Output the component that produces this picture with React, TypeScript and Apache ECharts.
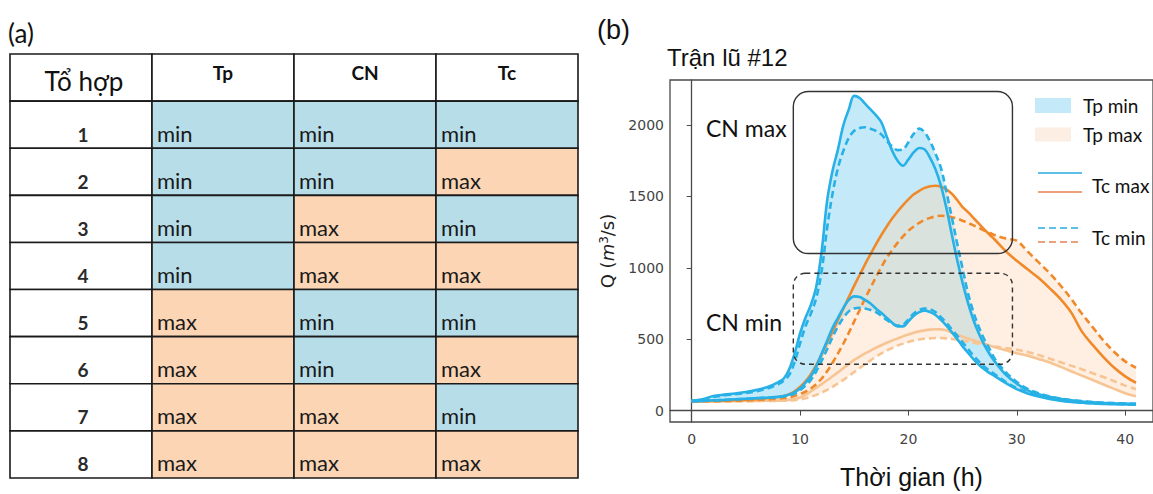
import React, { useEffect, useRef } from "react";
import * as echarts from "echarts";

// ---------------- (a) table data ----------------
const tableHeader = ["Tổ hợp", "Tp", "CN", "Tc"];
const comboIds = ["1", "2", "3", "4", "5", "6", "7", "8"];
const tpLevels = ["min", "min", "min", "min", "max", "max", "max", "max"];
const cnLevels = ["min", "min", "max", "max", "min", "min", "max", "max"];
const tcLevels = ["min", "max", "min", "max", "min", "max", "min", "max"];

// ---------------- (b) hydrograph data ----------------
const hours = [
  0, 1, 2, 3, 4, 5, 6, 7, 8,
  8.5, 9, 9.5, 10, 10.5, 11, 11.5, 12, 12.5, 13, 13.5, 14, 14.5, 15, 15.5, 16, 16.5, 17, 17.5, 18,
  18.5, 19, 19.5, 20, 20.5, 21, 21.5, 22, 22.5, 23, 23.5, 24, 24.5, 25, 25.5, 26, 26.5, 27, 27.5, 28,
  29, 30, 31, 32, 33, 34, 35, 36, 37, 38, 39, 40, 41,
];
// Tp min, CN max, Tc max (blue solid, upper)
const qTpMinCnMaxTcMax = [
  68, 80, 102, 112, 120, 130, 145, 165, 200,
  225, 290, 400, 540, 650, 740, 870, 1120, 1470, 1680, 1830, 2000, 2110, 2205, 2190, 2150, 2110, 2070, 2020, 1920,
  1820, 1750, 1715, 1760, 1810, 1840, 1830, 1770, 1690, 1575, 1420, 1235, 1055, 895, 755, 635, 540, 460, 395, 340,
  250, 188, 142, 115, 96, 82, 72, 64, 58, 54, 51, 49, 47,
];
// Tp min, CN max, Tc min (blue dashed, upper)
const qTpMinCnMaxTcMin = [
  68, 76, 96, 106, 114, 123, 136, 155, 185,
  210, 250, 340, 470, 590, 680, 790, 980, 1280, 1520, 1700, 1820, 1910, 1960, 1980, 1985, 1975, 1960, 1935, 1890,
  1850, 1825, 1830, 1880, 1940, 1975, 1950, 1885, 1800, 1700, 1535, 1355, 1170, 995, 822, 690, 585, 500, 430, 360,
  268, 200, 152, 122, 100, 85, 74, 66, 60, 55, 52, 50, 48,
];
// Tp min, CN min, Tc max (blue solid, lower)
const qTpMinCnMinTcMax = [
  66, 68, 72, 75, 79, 83, 87, 91, 96,
  102, 112, 130, 155, 195, 240, 310, 400, 490, 580, 650, 720, 775, 800, 795, 775, 750, 715, 685, 650,
  615, 590, 590, 625, 665, 690, 700, 690, 670, 635, 595, 550, 502, 450, 405, 360, 320, 290, 262, 240,
  192, 150, 120, 98, 82, 70, 61, 55, 50, 47, 45, 43, 42,
];
// Tp min, CN min, Tc min (blue dashed, lower)
const qTpMinCnMinTcMin = [
  66, 68, 71, 74, 78, 82, 86, 90, 94,
  99, 106, 120, 142, 175, 215, 275, 350, 430, 515, 590, 650, 695, 715, 720, 715, 705, 690, 665, 635,
  610, 595, 600, 640, 680, 705, 715, 710, 690, 655, 615, 570, 525, 478, 432, 385, 345, 308, 278, 253,
  200, 157, 125, 102, 85, 73, 64, 57, 52, 48, 46, 44, 43,
];
// Tp max, CN max, Tc max (orange solid, upper)
const qTpMaxCnMaxTcMax = [
  66, 66, 67, 69, 72, 76, 80, 86, 95,
  102, 115, 135, 165, 205, 255, 320, 395, 475, 555, 635, 715, 795, 875, 950, 1025, 1095, 1165, 1230, 1290,
  1345, 1395, 1440, 1480, 1515, 1540, 1560, 1572, 1575, 1568, 1550, 1520, 1475, 1425, 1390, 1350, 1310, 1270, 1232, 1195,
  1115, 1050, 990, 930, 860, 785, 690, 555, 460, 375, 300, 240, 195,
];
// Tp max, CN max, Tc min (orange dashed, upper)
const qTpMaxCnMaxTcMin = [
  66, 66, 66, 67, 69, 71, 74, 78, 84,
  88, 94, 103, 115, 132, 155, 185, 225, 275, 335, 400, 470, 545, 625, 705, 785, 860, 935, 1005, 1070,
  1125, 1175, 1220, 1260, 1290, 1315, 1335, 1350, 1360, 1365, 1362, 1355, 1345, 1330, 1315, 1298, 1280, 1262, 1245, 1228,
  1205, 1190, 1115, 1040, 965, 880, 785, 680, 585, 490, 410, 345, 300,
];
// Tp max, CN min, Tc max (light orange solid, lower)
const qTpMaxCnMinTcMax = [
  65, 65, 65, 66, 66, 67, 68, 69, 70,
  72, 75, 82, 92, 110, 135, 160, 185, 212, 240, 268, 298, 326, 355, 378, 400, 420, 440, 458, 475,
  491, 505, 520, 533, 545, 555, 562, 567, 570, 569, 562, 545, 532, 518, 505, 492, 480, 468, 455, 443,
  422, 402, 385, 362, 338, 308, 276, 245, 214, 183, 152, 122, 100,
];
// Tp max, CN min, Tc min (light orange dashed, lower)
const qTpMaxCnMinTcMin = [
  65, 65, 65, 65, 66, 66, 67, 67, 68,
  69, 70, 73, 78, 86, 97, 110, 126, 145, 166, 190, 215, 242, 270, 298, 325, 352, 377, 400, 420,
  438, 455, 469, 481, 491, 498, 503, 506, 508, 508, 506, 502, 497, 490, 483, 476, 469, 462, 455, 449,
  438, 426, 410, 390, 365, 340, 315, 290, 262, 235, 205, 175, 150,
];
const xTicks = [0, 10, 20, 30, 40];
const yTicks = [0, 500, 1000, 1500, 2000];

// annotation boxes in data units
const cnMaxBox = { t0: 9.38, t1: 29.6, q0: 1100, q1: 2235 };
const cnMinBox = { t0: 9.38, t1: 29.6, q0: 325, q1: 962 };

// ---------------- styles ----------------
const BLUE = "#27b1e6";
const ORANGE = "#f0892a";
const LIGHT_ORANGE = "#f7c494";
const BLUE_FILL = "rgba(100,200,240,0.38)";
const ORANGE_FILL = "rgba(255,214,178,0.38)";
const CELL_BLUE = "#b7dde8";
const CELL_ORANGE = "#fcd5b4";
const CAL = 'Lato, "Open Sans", sans-serif';
const ARIAL = '"Liberation Sans", Arial, sans-serif';
const DEJAVU = '"DejaVu Sans", sans-serif';

const pairs = (ys: number[]) => hours.map((t, i) => [t, ys[i]]);

export default function App() {
  const ref = useRef<HTMLDivElement>(null);

  useEffect(() => {
    const chart = echarts.init(ref.current!, null, { renderer: "svg" });

    // table cells
    type Cell = { col: number; row: number; text: string; kind: string };
    const cells: Cell[] = [];
    tableHeader.forEach((h, c) => cells.push({ col: c, row: 0, text: h, kind: c === 0 ? "head0" : "head" }));
    comboIds.forEach((id, r) => {
      cells.push({ col: 0, row: r + 1, text: id, kind: "id" });
      [tpLevels[r], cnLevels[r], tcLevels[r]].forEach((lv, k) =>
        cells.push({ col: k + 1, row: r + 1, text: lv, kind: lv })
      );
    });

    const blueUpper = hours.map((_, i) => Math.max(qTpMinCnMaxTcMax[i], qTpMinCnMaxTcMin[i]));
    const blueLower = hours.map((_, i) => Math.min(qTpMinCnMinTcMax[i], qTpMinCnMinTcMin[i]));
    const orUpper = hours.map((_, i) => Math.max(qTpMaxCnMaxTcMax[i], qTpMaxCnMaxTcMin[i]));
    const orLower = hours.map((_, i) => Math.min(qTpMaxCnMinTcMax[i], qTpMaxCnMinTcMin[i]));

    const SM = 0.35;
    const band = (lower: number[], upper: number[], color: string, z: number) => ({
      type: "custom", xAxisIndex: 1, yAxisIndex: 1, silent: true, z, clip: true,
      data: [[hours[0], lower[0]]],
      renderItem: (_p: any, api: any) => {
        const top = hours.map((t, i) => api.coord([t, upper[i]]));
        const bot = hours.map((t, i) => api.coord([t, lower[i]])).reverse();
        return { type: "polygon", shape: { points: top.concat(bot) }, style: { fill: color } };
      },
    });

    const lines = [
      { d: qTpMaxCnMinTcMax, c: LIGHT_ORANGE, dash: false },
      { d: qTpMaxCnMinTcMin, c: LIGHT_ORANGE, dash: true },
      { d: qTpMaxCnMaxTcMax, c: ORANGE, dash: false },
      { d: qTpMaxCnMaxTcMin, c: ORANGE, dash: true },
      { d: qTpMinCnMinTcMax, c: BLUE, dash: false },
      { d: qTpMinCnMinTcMin, c: BLUE, dash: true },
      { d: qTpMinCnMaxTcMax, c: BLUE, dash: false },
      { d: qTpMinCnMaxTcMin, c: BLUE, dash: true },
    ].map((l, i) => ({
      type: "line", xAxisIndex: 1, yAxisIndex: 1, data: pairs(l.d), symbol: "none", smooth: SM,
      silent: true, z: 5 + i,
      lineStyle: { color: l.c, width: 2.6, type: l.dash ? [7, 4] : "solid" },
    }));

    chart.setOption({
      animation: false,
      backgroundColor: "#ffffff",
      grid: [
        { left: 10, top: 54, width: 568, height: 424, show: false },
        {
          left: 670, top: 80, right: -5, bottom: 69, show: true,
          borderColor: "#4a4a4a", borderWidth: 1.3, backgroundColor: "transparent",
        },
      ],
      xAxis: [
        { type: "category", gridIndex: 0, data: [0, 1, 2, 3], show: false },
        {
          type: "value", gridIndex: 1, min: -2, max: 42.57,
          axisLine: { show: true, lineStyle: { color: "#4a4a4a", width: 1.3 } },
          axisTick: { show: true, customValues: xTicks, length: 5, lineStyle: { color: "#4a4a4a" } },
          axisLabel: {
            customValues: xTicks, color: "#444", fontFamily: DEJAVU, fontSize: 14, margin: 10,
            formatter: (v: number) => String(v),
          },
          splitLine: { show: false },
          name: "Thời gian (h)", nameLocation: "middle", nameGap: 42,
          nameTextStyle: { fontFamily: ARIAL, fontSize: 25, color: "#111" },
        },
      ],
      yAxis: [
        { type: "category", gridIndex: 0, data: [0, 1, 2, 3, 4, 5, 6, 7, 8], inverse: true, show: false },
        {
          type: "value", gridIndex: 1, min: -80, max: 2316,
          axisLine: { show: true, lineStyle: { color: "#4a4a4a", width: 1.3 } },
          axisTick: { show: true, customValues: yTicks, length: 5, lineStyle: { color: "#4a4a4a" } },
          axisLabel: {
            customValues: yTicks, color: "#444", fontFamily: DEJAVU, fontSize: 14, margin: 6,
            formatter: (v: number) => String(v),
          },
          splitLine: { show: false },
          name: "Q ({i|m}{s|3}/s)", nameLocation: "middle", nameGap: 54, nameRotate: 90,
          nameTextStyle: {
            fontFamily: DEJAVU, fontSize: 18, color: "#222",
            rich: {
              i: { fontFamily: DEJAVU, fontSize: 18, fontStyle: "italic", color: "#222" },
              s: { fontFamily: DEJAVU, fontSize: 12, color: "#222", verticalAlign: "top" },
            },
          },
        },
      ],
      series: [
        {
          type: "custom", xAxisIndex: 0, yAxisIndex: 0, silent: true,
          data: cells.map((c) => [c.col, c.row]),
          renderItem: (params: any, api: any) => {
            const cell = cells[params.dataIndex];
            const p = api.coord([api.value(0), api.value(1)]);
            const s = api.size([1, 1]);
            const x0 = p[0] - s[0] / 2, y0 = p[1] - s[1] / 2;
            const fill = cell.kind === "min" ? CELL_BLUE : cell.kind === "max" ? CELL_ORANGE : "#ffffff";
            let text: any;
            if (cell.kind === "head0") {
              text = { x: p[0] + 3, y: p[1] + 3, style: { text: cell.text, fontFamily: CAL, fontSize: 26, fill: "#111", align: "center", verticalAlign: "middle" } };
            } else if (cell.kind === "head") {
              text = { x: p[0], y: y0 + 18, style: { text: cell.text, fontFamily: CAL, fontWeight: "bold", fontSize: 19, fill: "#111", align: "center", verticalAlign: "middle" } };
            } else if (cell.kind === "id") {
              text = { x: p[0] + 2, y: y0 + 33, style: { text: cell.text, fontFamily: CAL, fontWeight: "bold", fontSize: 19, fill: "#2a2a2a", align: "center", verticalAlign: "middle" } };
            } else {
              text = { x: x0 + 5, y: y0 + 32, style: { text: cell.text, fontFamily: CAL, fontSize: 22, fill: "#1a1a1a", align: "left", verticalAlign: "middle" } };
            }
            return {
              type: "group",
              children: [
                { type: "rect", shape: { x: x0, y: y0, width: s[0], height: s[1] }, style: { fill, stroke: "#1a1a1a", lineWidth: 1.6 } },
                { type: "text", ...text },
              ],
            };
          },
        },
        band(blueLower, blueUpper, BLUE_FILL, 2),
        band(orLower, orUpper, ORANGE_FILL, 3),
        ...lines,
      ],
    });

    const px = (t: number, q: number) => chart.convertToPixel({ xAxisIndex: 1, yAxisIndex: 1 }, [t, q]) as number[];
    const boxRect = (b: typeof cnMaxBox, dashed: boolean, r: number) => {
      const a = px(b.t0, b.q1);
      const c = px(b.t1, b.q0);
      return {
        type: "rect", z: 50, silent: true,
        shape: { x: a[0], y: a[1], width: c[0] - a[0], height: c[1] - a[1], r },
        style: { fill: "none", stroke: "#333", lineWidth: 1.4, lineDash: dashed ? [5, 4] : null },
      };
    };
    const txt = (text: string, x: number, y: number, size: number, family: string, extra: any = {}) => ({
      type: "text", x, y, z: 60, silent: true,
      style: { text, fontSize: size, fontFamily: family, fill: "#111", align: "left", verticalAlign: "middle", ...extra },
    });
    const seg = (x1: number, x2: number, y: number, color: string, dashed: boolean) => ({
      type: "line", z: 60, silent: true,
      shape: { x1, y1: y, x2, y2: y },
      style: { stroke: color, lineWidth: 2, lineDash: dashed ? [7, 4] : null },
    });

    chart.setOption({
      graphic: [
        txt("(a)", 8, 33, 26, CAL),
        txt("(b)", 597, 30, 27, ARIAL),
        txt("Trận lũ #12", 667, 57, 24, ARIAL),
        boxRect(cnMaxBox, false, 15),
        boxRect(cnMinBox, true, 12),
        txt("CN max", 706, 128, 23, CAL),
        txt("CN min", 706, 322, 23, CAL),
        { type: "rect", z: 60, silent: true, shape: { x: 1035, y: 98, width: 36, height: 15 }, style: { fill: "#c4eaf9" } },
        txt("Tp min", 1083, 105.5, 19, CAL),
        { type: "rect", z: 60, silent: true, shape: { x: 1035, y: 127.5, width: 36, height: 14 }, style: { fill: "#fdeee3" } },
        txt("Tp max", 1083, 134, 19, CAL),
        seg(1038, 1082, 173, "#5cc0e8", false),
        seg(1038, 1082, 192, "#e9a27a", false),
        txt("Tc max", 1092, 185, 19, CAL),
        seg(1038, 1080, 228, "#5cc0e8", true),
        seg(1038, 1080, 242, "#e9a27a", true),
        txt("Tc min", 1092, 237, 19, CAL),
      ],
    });

    return () => chart.dispose();
  }, []);

  return (
    <div
      ref={ref}
      style={{ position: "fixed", left: 0, top: 0, width: 1153, height: 494, background: "#fff" }}
    />
  );
}
